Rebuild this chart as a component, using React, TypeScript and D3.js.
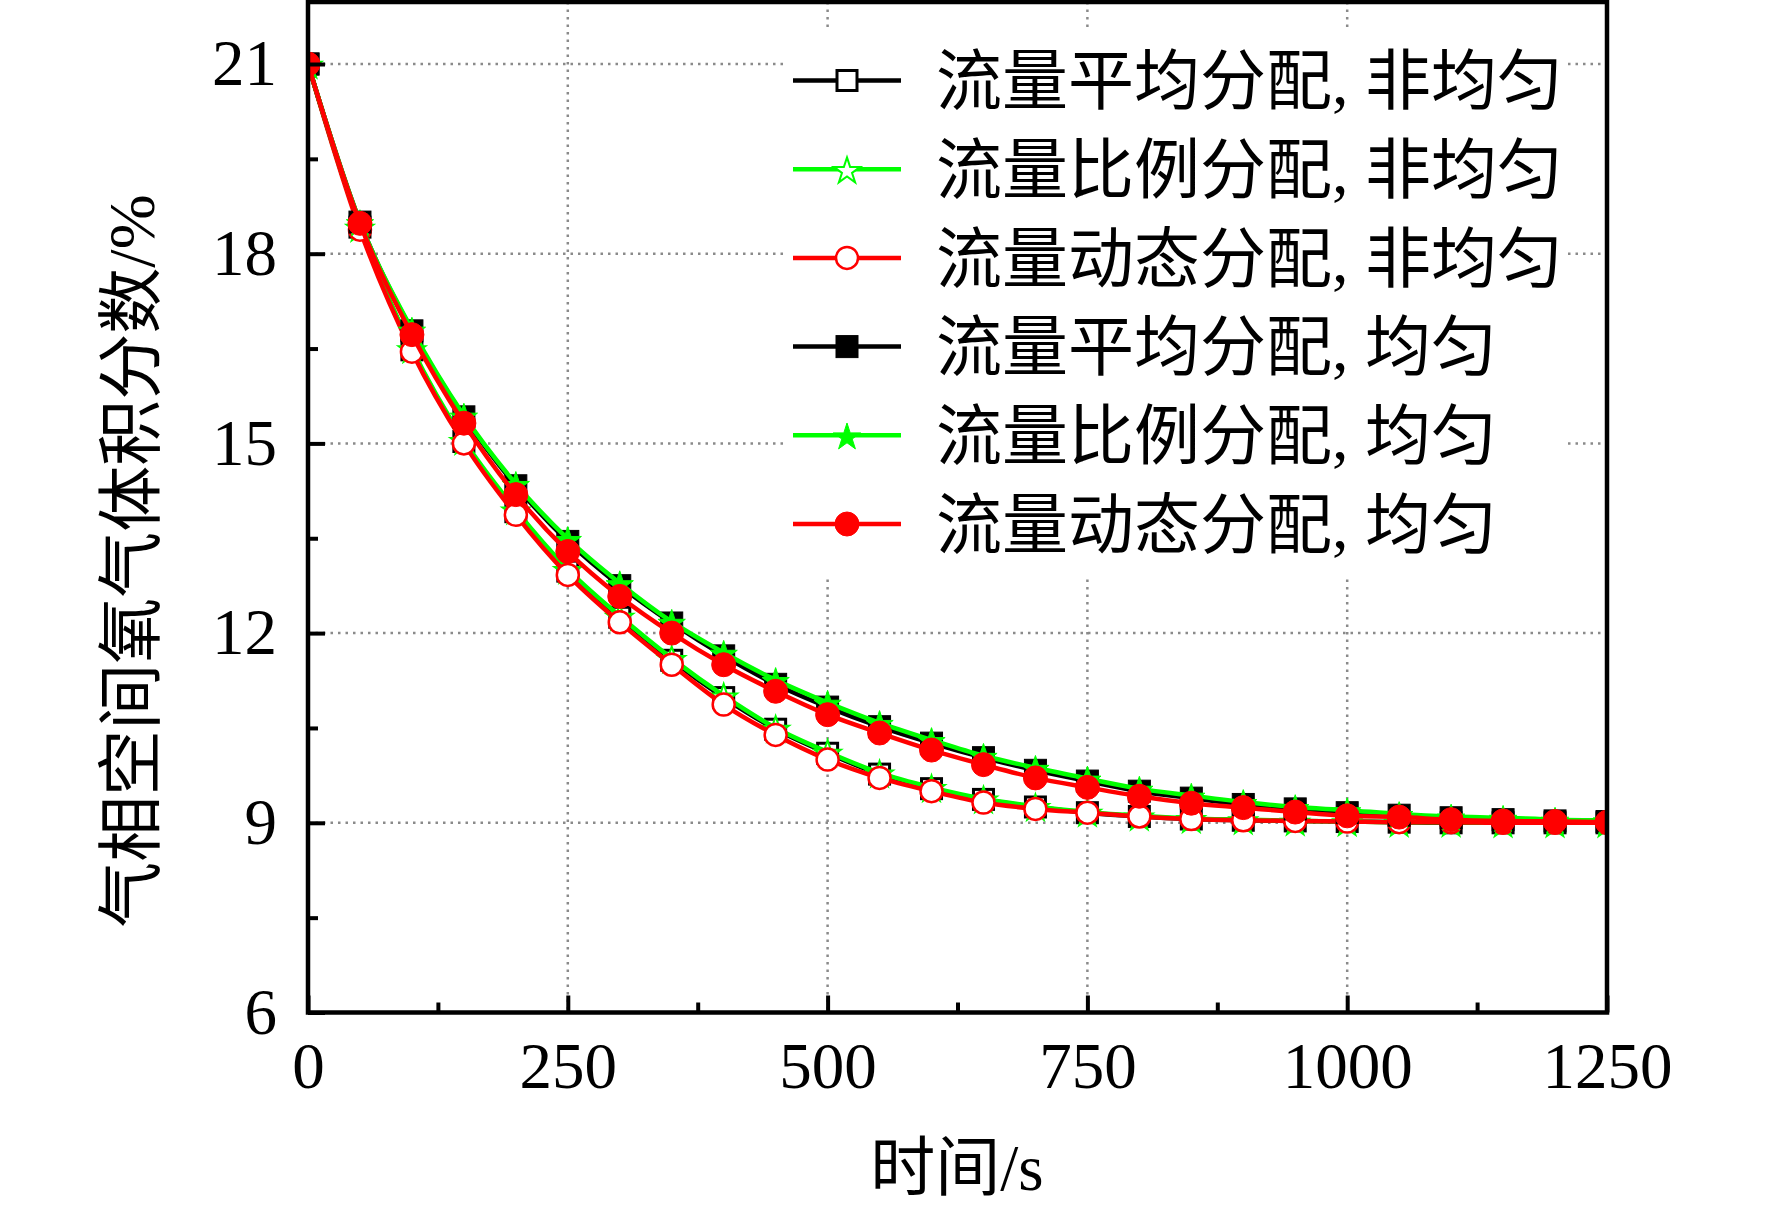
import { useEffect, useRef } from "react";
import * as d3 from "d3";

const width = 1772;
const height = 1212;
const frame = { left: 308, right: 1607, top: 2, bottom: 1012.5 };
const fontFamily = "'Liberation Serif', 'Noto Sans CJK SC', serif";

// time axis (s)
const times = [0, 50, 100, 150, 200, 250, 300, 350, 400, 450, 500, 550, 600, 650, 700, 750, 800, 850, 900, 950, 1000, 1050, 1100, 1150, 1200, 1250];
const xTicks = [0, 250, 500, 750, 1000, 1250];
const xMinorTicks = [125, 375, 625, 875, 1125];
const yTicks = [6, 9, 12, 15, 18, 21];
const yMinorTicks = [7.5, 10.5, 13.5, 16.5, 19.5];
const xGrid = [250, 500, 750, 1000];
const yGrid = [9, 12, 15, 18, 21];

const seriesNames = [
  "流量平均分配, 非均匀",
  "流量比例分配, 非均匀",
  "流量动态分配, 非均匀",
  "流量平均分配, 均匀",
  "流量比例分配, 均匀",
  "流量动态分配, 均匀",
];
const seriesColors = ["#000000", "#00ff00", "#ff0000", "#000000", "#00ff00", "#ff0000"];
const seriesSymbols = ["square", "star", "circle", "square", "star", "circle"];
const seriesFilled = [false, false, false, true, true, true];

// O2 volume fraction (%)
const evenNonUniform = [21, 18.42, 16.48, 15.03, 13.92, 12.98, 12.25, 11.57, 10.98, 10.48, 10.1, 9.77, 9.54, 9.37, 9.25, 9.16, 9.1, 9.06, 9.04, 9.03, 9.02, 9.01, 9.0, 9.0, 9.0, 9.0];
const propNonUniform = [21, 18.42, 16.5, 15.05, 13.95, 13.01, 12.27, 11.6, 11.01, 10.5, 10.12, 9.79, 9.56, 9.38, 9.26, 9.17, 9.11, 9.07, 9.05, 9.03, 9.02, 9.01, 9.01, 9.0, 9.0, 9.0];
const dynNonUniform = [21, 18.38, 16.45, 15.0, 13.87, 12.92, 12.17, 11.5, 10.87, 10.39, 10.0, 9.71, 9.5, 9.32, 9.22, 9.16, 9.1, 9.06, 9.04, 9.03, 9.02, 9.01, 9.01, 9.0, 9.0, 9.0];
const evenUniform = [21, 18.5, 16.78, 15.42, 14.33, 13.45, 12.75, 12.16, 11.64, 11.19, 10.83, 10.52, 10.26, 10.03, 9.83, 9.66, 9.5, 9.39, 9.29, 9.22, 9.16, 9.12, 9.08, 9.05, 9.03, 9.02];
const propUniform = [21, 18.5, 16.8, 15.44, 14.36, 13.49, 12.79, 12.18, 11.69, 11.26, 10.9, 10.58, 10.31, 10.06, 9.87, 9.7, 9.54, 9.43, 9.33, 9.25, 9.2, 9.14, 9.1, 9.08, 9.05, 9.04];
const dynUniform = [21, 18.48, 16.72, 15.32, 14.19, 13.29, 12.58, 12.0, 11.5, 11.08, 10.71, 10.42, 10.15, 9.92, 9.71, 9.56, 9.42, 9.31, 9.24, 9.17, 9.11, 9.09, 9.05, 9.03, 9.02, 9.01];

const seriesValues = [evenNonUniform, propNonUniform, dynNonUniform, evenUniform, propUniform, dynUniform];

const legend = { boxX: 783, boxY: 30, boxW: 785, boxH: 546, lineX1: 793, lineX2: 901, textX: 936, firstY: 80.5, step: 88.7 };

const drawMarker = (g: any, symbol: string, color: string, filled: boolean, cx: number, cy: number) => {
  const fill = filled ? color : "#ffffff";
  if (symbol === "square") {
    const s = filled ? 22 : 20;
    g.append("rect")
      .attr("x", cx - s / 2)
      .attr("y", cy - s / 2)
      .attr("width", s)
      .attr("height", s)
      .attr("fill", fill)
      .attr("stroke", color)
      .attr("stroke-width", filled ? 1 : 3);
  } else if (symbol === "circle") {
    g.append("circle")
      .attr("cx", cx)
      .attr("cy", cy)
      .attr("r", filled ? 12 : 11)
      .attr("fill", fill)
      .attr("stroke", color)
      .attr("stroke-width", filled ? 1 : 2.5);
  } else {
    g.append("path")
      .attr("d", d3.symbol().type(d3.symbolStar).size(filled ? 230 : 215)())
      .attr("transform", `translate(${cx} ${cy + 2})`)
      .attr("fill", fill)
      .attr("stroke", color)
      .attr("stroke-width", filled ? 1 : 2);
  }
};

const buildGraph = (ref: SVGSVGElement) => {
  const svg = d3.select(ref);
  svg.selectAll("*").remove();

  const x = d3.scaleLinear().domain([0, 1250]).range([frame.left, frame.right]);
  const y = d3.scaleLinear().domain([6, 21]).range([frame.bottom, 64]);

  svg.append("rect").attr("width", width).attr("height", height).attr("fill", "#ffffff");

  svg.append("defs").append("clipPath").attr("id", "plot-clip")
    .append("rect")
    .attr("x", frame.left).attr("y", frame.top)
    .attr("width", frame.right - frame.left).attr("height", frame.bottom - frame.top);

  // dotted grid
  const grid = svg.append("g").attr("stroke", "#8a8a8a").attr("stroke-width", 2.5).attr("stroke-dasharray", "2.5 5");
  grid.selectAll("line.gx").data(xGrid).enter().append("line")
    .attr("x1", (d) => x(d)).attr("x2", (d) => x(d))
    .attr("y1", frame.top).attr("y2", frame.bottom);
  grid.selectAll("line.gy").data(yGrid).enter().append("line")
    .attr("x1", frame.left).attr("x2", frame.right)
    .attr("y1", (d) => y(d)).attr("y2", (d) => y(d));

  // legend background hides the grid
  svg.append("rect")
    .attr("x", legend.boxX).attr("y", legend.boxY)
    .attr("width", legend.boxW).attr("height", legend.boxH)
    .attr("fill", "#ffffff");

  // series, clipped to the frame
  const line = d3.line<number>()
    .x((d, i) => x(times[i]))
    .y((d) => y(d))
    .curve(d3.curveMonotoneX);

  const plot = svg.append("g").attr("clip-path", "url(#plot-clip)");
  seriesValues.forEach((vals, si) => {
    const g = plot.append("g");
    g.append("path")
      .attr("d", line(vals))
      .attr("fill", "none")
      .attr("stroke", seriesColors[si])
      .attr("stroke-width", 4.5);
    vals.forEach((v, i) => {
      drawMarker(g, seriesSymbols[si], seriesColors[si], seriesFilled[si], x(times[i]), y(v));
    });
  });

  // axes, ticks inward
  const styleAxis = (g: any) => {
    g.select(".domain").remove();
    g.selectAll(".tick line").attr("stroke", "#000").attr("stroke-width", 4);
    g.selectAll(".tick text")
      .attr("fill", "#000")
      .style("font-family", fontFamily)
      .style("font-size", "65px");
  };

  svg.append("g")
    .attr("transform", `translate(${frame.left} 0)`)
    .call(d3.axisLeft(y).tickValues(yTicks).tickSizeInner(-17).tickSizeOuter(0).tickPadding(31).tickFormat(d3.format("d")))
    .call(styleAxis);
  svg.append("g")
    .attr("transform", `translate(${frame.left} 0)`)
    .call(d3.axisLeft(y).tickValues(yMinorTicks).tickSizeInner(-10).tickSizeOuter(0).tickFormat(() => ""))
    .call(styleAxis);
  svg.append("g")
    .attr("transform", `translate(0 ${frame.bottom})`)
    .call(d3.axisBottom(x).tickValues(xTicks).tickSizeInner(-17).tickSizeOuter(0).tickPadding(29).tickFormat(d3.format("d")))
    .call(styleAxis);
  svg.append("g")
    .attr("transform", `translate(0 ${frame.bottom})`)
    .call(d3.axisBottom(x).tickValues(xMinorTicks).tickSizeInner(-10).tickSizeOuter(0).tickFormat(() => ""))
    .call(styleAxis);

  svg.append("rect")
    .attr("x", frame.left).attr("y", frame.top)
    .attr("width", frame.right - frame.left).attr("height", frame.bottom - frame.top)
    .attr("fill", "none").attr("stroke", "#000").attr("stroke-width", 4.5);

  // legend
  seriesNames.forEach((name, si) => {
    const ly = legend.firstY + si * legend.step;
    const g = svg.append("g");
    g.append("line")
      .attr("x1", legend.lineX1).attr("x2", legend.lineX2)
      .attr("y1", ly).attr("y2", ly)
      .attr("stroke", seriesColors[si]).attr("stroke-width", 4.5);
    drawMarker(g, seriesSymbols[si], seriesColors[si], seriesFilled[si], (legend.lineX1 + legend.lineX2) / 2, ly);
    g.append("text")
      .text(name)
      .attr("x", legend.textX)
      .attr("y", ly)
      .attr("dy", "0.36em")
      .attr("fill", "#000")
      .style("font-family", fontFamily)
      .style("font-size", "66px");
  });

  // axis titles
  svg.append("text")
    .text("时间/s")
    .attr("x", 957)
    .attr("y", 1190)
    .attr("text-anchor", "middle")
    .style("font-family", fontFamily)
    .style("font-size", "65px");
  svg.append("text")
    .text("气相空间氧气体积分数/%")
    .attr("transform", "translate(130 561) rotate(-90)")
    .attr("text-anchor", "middle")
    .attr("dy", "0.36em")
    .style("font-family", fontFamily)
    .style("font-size", "66px");
};

export default function App() {
  const svgRef = useRef<SVGSVGElement>(null);

  useEffect(() => {
    if (svgRef.current) buildGraph(svgRef.current);
  }, []);

  return (
    <div style={{ position: "absolute", left: 0, top: 0 }}>
      <svg ref={svgRef} width={width} height={height} style={{ display: "block" }}></svg>
    </div>
  );
}
